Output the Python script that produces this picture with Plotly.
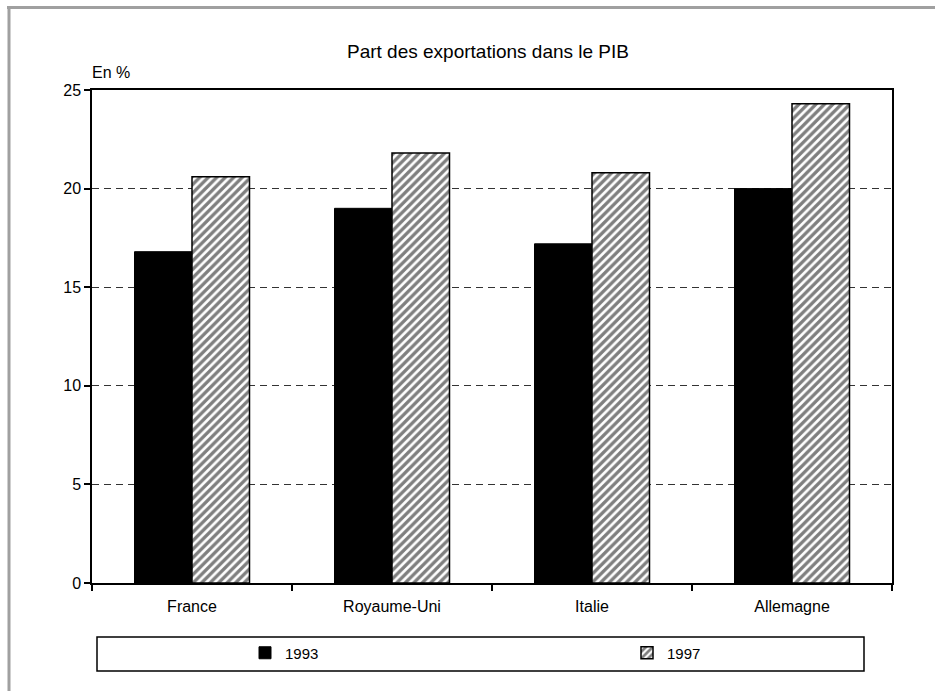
import plotly.graph_objects as go

categories = ["France", "Royaume-Uni", "Italie", "Allemagne"]
values_1993 = [16.8, 19.0, 17.2, 20.0]
values_1997 = [20.6, 21.8, 20.8, 24.3]
series_names = ["1993", "1997"]
y_ticks = [0, 5, 10, 15, 20, 25]

W, H = 935, 691
ML, MR, MT, MB = 92, 43, 90, 108
PW, PH = W - ML - MR, H - MT - MB

def px_x(x):
    return (x - ML) / PW

def px_y(y):
    return (H - MB - y) / PH

FONT = "Liberation Sans, Arial, sans-serif"

fig = go.Figure()
fig.add_trace(go.Bar(
    x=categories, y=values_1993, name=series_names[0],
    marker=dict(color="black", line=dict(color="black", width=1)),
    legend="legend",
))
fig.add_trace(go.Bar(
    x=categories, y=values_1997, name=series_names[1],
    marker=dict(color="white", line=dict(color="black", width=1.5),
                pattern=dict(shape="/", fgcolor="black", bgcolor="white",
                             size=6, solidity=0.55, fillmode="overlay")),
    legend="legend2",
))

shapes = [
    # legend box
    dict(type="rect", xref="paper", yref="paper",
         x0=px_x(97), x1=px_x(864), y0=px_y(671), y1=px_y(637),
         line=dict(color="black", width=1.5), fillcolor="rgba(0,0,0,0)"),
    # gray outer frame (top & left)
    dict(type="line", xref="paper", yref="paper",
         x0=px_x(7), x1=px_x(940), y0=px_y(7.5), y1=px_y(7.5),
         line=dict(color="#a0a0a0", width=3)),
    dict(type="line", xref="paper", yref="paper",
         x0=px_x(9), x1=px_x(9), y0=px_y(6), y1=px_y(700),
         line=dict(color="#a0a0a0", width=3)),
]

fig.update_layout(
    width=W, height=H,
    margin=dict(l=ML, r=MR, t=MT, b=MB, autoexpand=False),
    paper_bgcolor="white", plot_bgcolor="white",
    font=dict(family=FONT, size=16, color="black"),
    title=dict(text="Part des exportations dans le PIB",
               x=(ML + PW / 2 - 4) / W, xanchor="center",
               y=1 - 51 / H, yanchor="middle",
               font=dict(family=FONT, size=19, color="black")),
    barmode="group", bargap=0.425, bargroupgap=0,
    shapes=shapes,
    annotations=[dict(text="En %", xref="paper", yref="paper",
                      x=px_x(90), y=px_y(73), xanchor="left", yanchor="middle",
                      showarrow=False, font=dict(family=FONT, size=16))],
    legend=dict(orientation="h", xref="container", yref="container",
                x=245 / W, y=1 - 653 / H, xanchor="left", yanchor="middle",
                bgcolor="rgba(0,0,0,0)", font=dict(family=FONT, size=15)),
    legend2=dict(orientation="h", xref="container", yref="container",
                 x=627 / W, y=1 - 653 / H, xanchor="left", yanchor="middle",
                 bgcolor="rgba(0,0,0,0)", font=dict(family=FONT, size=15)),
    showlegend=True,
)

fig.update_xaxes(
    type="category", tickson="boundaries", ticks="outside", ticklen=6,
    tickcolor="black", tickwidth=1.5, showline=True, linecolor="black",
    linewidth=1.5, mirror=True, showgrid=False, ticklabelstandoff=8,
    tickfont=dict(family=FONT, size=16),
)
fig.update_yaxes(
    range=[0, 25], tickvals=y_ticks, ticks="outside", ticklen=6,
    tickcolor="black", tickwidth=1.5, showline=True, linecolor="black",
    linewidth=1.5, mirror=True, showgrid=True, gridcolor="#333333",
    gridwidth=1.2, griddash="7px,5px", zeroline=False,
    tickfont=dict(family=FONT, size=16),
)

fig.write_html("out.html", config={"displayModeBar": False},
               post_script="document.body.style.margin='0px';")
